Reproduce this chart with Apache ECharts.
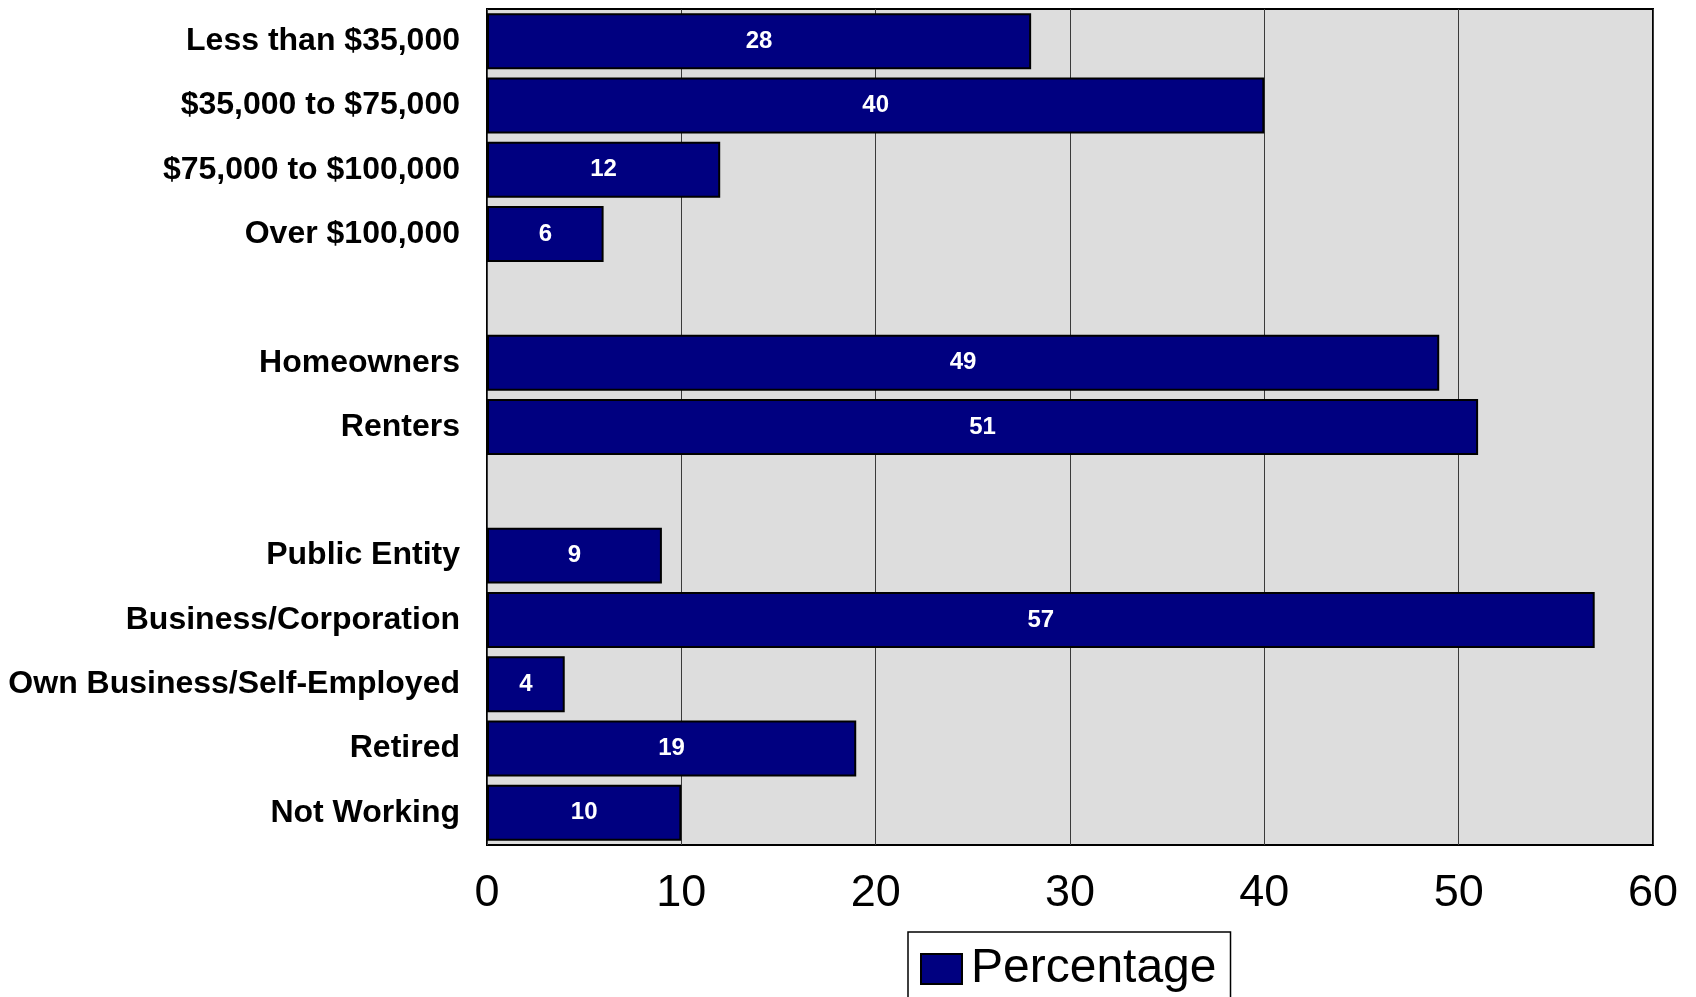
<!DOCTYPE html>
<html>
<head>
<meta charset="utf-8">
<style>html,body{margin:0;padding:0;background:#fff;}#c{width:1696px;height:997px;}</style>
<script src="https://cdn.jsdelivr.net/npm/echarts@6/dist/echarts.min.js"></script>
</head>
<body>
<div id="c"></div>
<script>
const categories = ['Less than $35,000', '$35,000 to $75,000', '$75,000 to $100,000', 'Over $100,000', '', 'Homeowners', 'Renters', ' ', 'Public Entity', 'Business/Corporation', 'Own Business/Self-Employed', 'Retired', 'Not Working'];
const percentage = [28, 40, 12, 6, null, 49, 51, null, 9, 57, 4, 19, 10];
const xTicks = { min: 0, max: 60, interval: 10 };
const seriesName = 'Percentage';

const chart = echarts.init(document.getElementById('c'), null, { renderer: 'canvas' });
chart.setOption({
  animation: false,
  backgroundColor: '#ffffff',
  grid: {
    left: 487, right: 43, top: 9, bottom: 152,
    show: true, backgroundColor: '#DDDDDD', borderColor: '#000', borderWidth: 2
  },
  legend: {
    data: [seriesName],
    left: 908, top: 932,
    width: 300,
    padding: [13, 14, 30, 12],
    borderColor: '#000', borderWidth: 1.5, backgroundColor: '#fff',
    itemWidth: 41, itemHeight: 30, itemGap: 4,
    icon: 'rect',
    itemStyle: { color: '#000080', borderColor: '#000', borderWidth: 2 },
    textStyle: { fontFamily: 'Liberation Sans, Arial, sans-serif', fontSize: 48, color: '#000', padding: [0, 0, 0, 4] }
  },
  xAxis: {
    type: 'value', min: xTicks.min, max: xTicks.max, interval: xTicks.interval,
    axisLine: { show: false }, axisTick: { show: false },
    splitLine: { show: true, lineStyle: { color: '#3a3a3a', width: 1 } },
    axisLabel: { fontFamily: 'Liberation Sans, Arial, sans-serif', fontSize: 45, color: '#000', margin: 26 }
  },
  yAxis: {
    type: 'category', data: categories, inverse: true,
    axisLine: { show: false }, axisTick: { show: false },
    axisLabel: { fontFamily: 'Liberation Sans, Arial, sans-serif', fontWeight: 'bold', fontSize: 32, color: '#000', margin: 27 }
  },
  series: [{
    name: seriesName, type: 'bar', data: percentage,
    barCategoryGap: '13%',
    itemStyle: { color: '#000080', borderColor: '#000', borderWidth: 2 },
    label: {
      show: true, position: 'inside', color: '#fff',
      fontFamily: 'Liberation Sans, Arial, sans-serif', fontWeight: 'bold', fontSize: 24
    }
  }]
});
</script>
</body>
</html>
